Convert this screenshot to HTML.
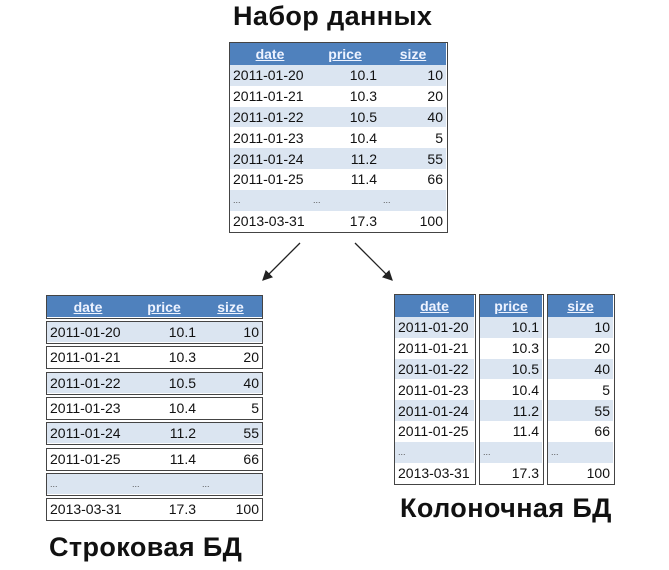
<!DOCTYPE html>
<html><head><meta charset="utf-8"><style>
body{margin:0;width:669px;height:570px;background:#fff;position:relative;overflow:hidden;font-family:"Liberation Sans",sans-serif}
.t{position:absolute;font-weight:bold;color:#111;font-size:27px;letter-spacing:0.4px;white-space:nowrap;line-height:30px}
.tb{position:absolute;border:1.5px solid #444;box-sizing:border-box;background:#fff}
.r{position:absolute;left:0;right:0;font-size:14px;color:#111}
.c{position:absolute;top:0;bottom:0;display:flex;align-items:center;padding:0 3px;box-sizing:border-box}
.h{background:#4f81bd;color:#eef3ff;font-weight:bold;text-decoration:underline;justify-content:center !important}
.a{background:#dbe5f1}
</style></head><body>
<div class="t" style="left:233px;top:1px">Набор данных</div>
<div class="t" style="left:49px;top:532px">Строковая БД</div>
<div class="t" style="left:400px;top:493px">Колоночная БД</div>
<svg width="669" height="570" style="position:absolute;left:0;top:0">
<defs><marker id="m" markerWidth="8" markerHeight="8" refX="7" refY="4" orient="auto"><path d="M0,0L8,4L0,8Z" fill="#222"/></marker></defs>
<line x1="300" y1="243" x2="263" y2="280" stroke="#222" stroke-width="1.3" marker-end="url(#m)"/>
<line x1="355" y1="243" x2="392" y2="280" stroke="#222" stroke-width="1.3" marker-end="url(#m)"/>
</svg>
<div id="root"></div>
<script>
const dates=["2011-01-20","2011-01-21","2011-01-22","2011-01-23","2011-01-24","2011-01-25","...","2013-03-31"];
const prices=["10.1","10.3","10.5","10.4","11.2","11.4","...","17.3"];
const sizes=["10","20","40","5","55","66","...","100"];
const heads=["date","price","size"];
const cols=[dates,prices,sizes];
const root=document.getElementById('root');
function cell(parent,x,w,txt,cls,align){
  const c=document.createElement('div');
  c.className='c '+cls;
  c.style.left=x+'px';c.style.width=w+'px';
  if(txt==='...'){c.style.justifyContent='flex-start';c.style.fontSize='9px';c.style.color='#555';}
  else if(align)c.style.justifyContent=align;
  c.textContent=txt;
  
  
  parent.appendChild(c);
}
function row(parent,top,h,widths,texts,header,alt){
  const r=document.createElement('div');r.className='r';
  r.style.top=top+'px';r.style.height=h+'px';
  
  
  let x=0;
  widths.forEach((w,i)=>{cell(r,x,w,texts[i],header?'h':(alt?'a':''),i===0?'flex-start':'flex-end');x+=w;});
  parent.appendChild(r);return r;
}
function box(x,y,w,h,name){
  const b=document.createElement('div');b.className='tb';
  b.style.left=x+'px';b.style.top=y+'px';b.style.width=w+'px';b.style.height=h+'px';
  
  
  root.appendChild(b);return b;
}
const tw=[80,70,66];
const T=box(229,42,219,191,'dataset-table');
row(T,0,22,tw,heads,true);
for(let i=0;i<8;i++)row(T,22+i*20.8,20.8,tw,cols.map(c=>c[i]),false,i%2===0);
const rw=[82,70,63];
const H=box(46,295,217,24,'row-db-header');
row(H,0,21,rw,heads,true);
for(let i=0;i<8;i++){
  const B=box(46,321+i*25.3,217,23,'row-db-record');
  row(B,0,20,rw,cols.map(c=>c[i]),false,i%2===0);
}
const cx=[394,479,547],cw=[82,65,68];
for(let k=0;k<3;k++){
  const C=box(cx[k],294,cw[k],191,'column-db-'+heads[k]);
  row(C,0,22,[cw[k]-3],[heads[k]],true);
  for(let i=0;i<8;i++)row(C,22+i*20.8,20.8,[cw[k]-3],[cols[k][i]],false,i%2===0).firstChild.style.justifyContent=(k===0||cols[k][i]==='...')?'flex-start':'flex-end';
}
</script>
</body></html>
